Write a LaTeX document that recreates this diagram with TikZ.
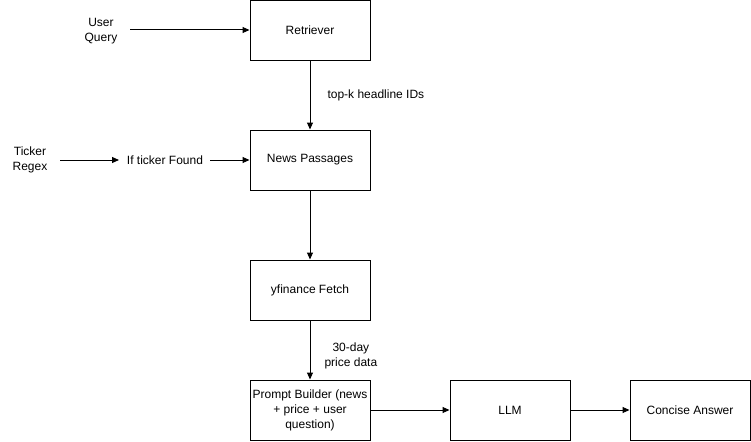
\documentclass[tikz,border=0pt]{standalone}
\usepackage{fontspec}
\setmainfont{Liberation Sans}
\usetikzlibrary{arrows.meta}
\begin{document}
\begin{tikzpicture}[x=1pt,y=-1pt,
  box/.style={draw,line width=1pt,minimum width=120pt,minimum height=60pt,inner sep=2pt,align=center,font=\fontsize{12}{15}\selectfont},
  txt/.style={align=center,inner sep=1pt,font=\fontsize{12}{15}\selectfont},
  arr/.style={line width=1pt,-{Triangle[length=7pt,width=6pt]}}]
\useasboundingbox (0,0) rectangle (751,441);
\node[box] (ret) at (310,30.5) {Retriever};
\node[box] (news) at (310,160) {News Passages};
\node[box] (yf) at (310,290) {yfinance Fetch};
\node[box] (pb) at (310,410) {Prompt Builder (news\\+ price + user\\question)};
\node[box] (llm) at (510,410) {LLM};
\node[box] (ans) at (690,410) {Concise Answer};
\node[txt] (uq) at (101,31) {User\\Query};
\node[txt] (tr) at (30,160) {Ticker\\Regex};
\node[txt] (itf) at (165,160) {If ticker Found};
\coordinate (uqe) at (130,30);
\coordinate (tre) at (60,160);
\coordinate (itfin) at (119,160);
\coordinate (itfout) at (210,160);
\draw[arr] (uqe) -- (ret.west |- uqe);
\draw[arr] (tre) -- (itfin);
\draw[arr] (itfout) -- (news.west);
\draw[arr] (ret) -- node[txt,right,xshift=16pt] {top-k headline IDs} (news);
\draw[arr] (news) -- (yf);
\draw[arr] (yf) -- node[txt,right,xshift=13pt,yshift=-6pt] {30-day\\price data} (pb);
\draw[arr] (pb) -- (llm);
\draw[arr] (llm) -- (ans);
\end{tikzpicture}
\end{document}
